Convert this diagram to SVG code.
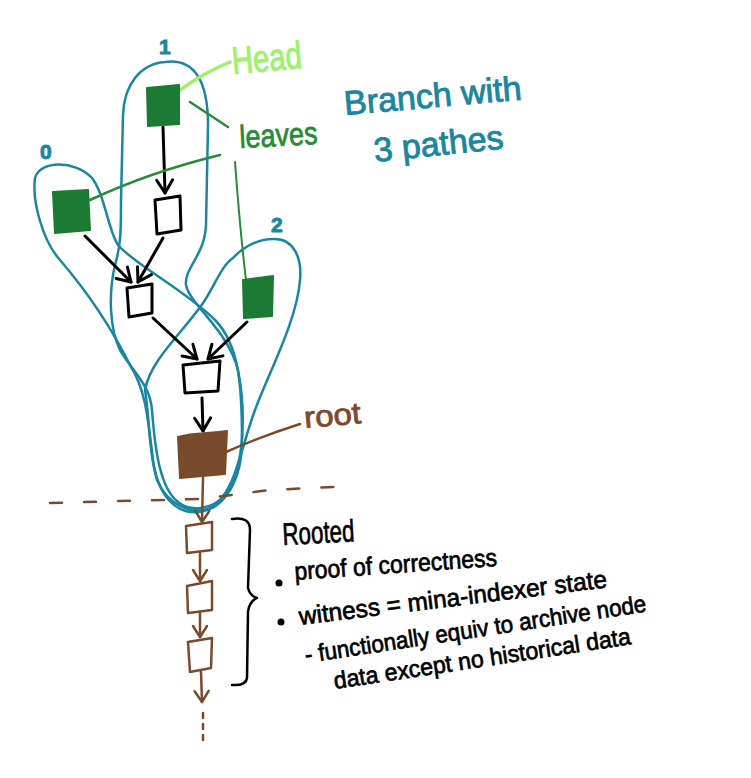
<svg xmlns="http://www.w3.org/2000/svg" width="751" height="778" viewBox="0 0 751 778">
<defs>
<marker id="ah" markerUnits="userSpaceOnUse" markerWidth="30" markerHeight="30" refX="0" refY="0" viewBox="-15 -15 30 30" orient="auto" overflow="visible">
<path d="M-13,-8 L0,0 L-13,8" fill="none" stroke="#000" stroke-width="3" stroke-linecap="round" stroke-linejoin="round"/>
</marker>
<marker id="ahb" markerUnits="userSpaceOnUse" markerWidth="30" markerHeight="30" refX="0" refY="0" viewBox="-15 -15 30 30" orient="auto" overflow="visible">
<path d="M-11,-7 L0,0 L-11,7" fill="none" stroke="#7a4a2c" stroke-width="2.5" stroke-linecap="round" stroke-linejoin="round"/>
</marker>
</defs>
<style>
.loop{fill:none;stroke:#1a86a0;stroke-width:2.5;stroke-linejoin:round}
.fg{fill:#1c7b33;stroke:#1c7b33;stroke-width:2;stroke-linejoin:round}
.fb{fill:#7a4a2c;stroke:#7a4a2c;stroke-width:2;stroke-linejoin:round}
.emp{fill:#fff;stroke:#000;stroke-width:3;stroke-linejoin:round}
.embr{fill:#fff;stroke:#7a4a2c;stroke-width:2.5;stroke-linejoin:round}
.arr{fill:none;stroke:#000;stroke-width:3;stroke-linecap:round;marker-end:url(#ah)}
.arrb{fill:none;stroke:#7a4a2c;stroke-width:2.5;stroke-linecap:round;marker-end:url(#ahb)}
.lead{fill:none;stroke-linecap:round}
.t{font-family:"Liberation Sans","DejaVu Sans",sans-serif}
.blue{fill:#1a86a0;stroke:#1a86a0;stroke-width:0.9}
.blk{fill:#000;stroke:#000;stroke-width:0.7}
.num{font-weight:bold;font-size:21px}
</style>
<g id="loops">
<path id="loop0" class="loop" d="M35,178 C40,160 75,160 92,178 C105,195 108,230 118,245 C135,265 185,290 215,320 C240,345 242,390 242,440 C242,480 225,508 200,512 C175,515 158,495 153,460 C148,420 146,390 130,365 C115,335 90,295 60,260 C42,240 32,200 35,178 Z"/>
<path id="loop1" class="loop" d="M165,62 C195,58 208,82 208,125 L206,225 C205,255 184,268 186,285 C190,305 228,330 238,370 C246,410 245,470 225,495 C212,510 190,512 178,502 C160,488 155,450 152,410 C150,385 135,375 120,350 C110,330 108,295 115,265 C121,245 121,230 121,200 L123,115 C124,85 140,64 165,62 Z"/>
<path id="loop2" class="loop" d="M273,239 C295,238 302,260 300,280 C297,320 270,370 255,410 C240,450 235,495 210,508 C190,515 168,505 157,480 C148,450 150,420 145,390 C150,360 185,330 203,303 C215,285 222,265 233,258 C245,245 260,239 273,239 Z"/>
</g>
<g id="connectors">
<path class="arr" d="M163,127 L165,193"/>
<path class="arr" d="M85,236 L131,282"/>
<path class="arr" d="M163,238 L138,282"/>
<path class="arr" d="M153,318 L197,359"/>
<path class="arr" d="M247,322 L208,359"/>
<path class="arr" d="M202,398 L203,431"/>
<path class="arrb" d="M203,478 L202,522"/>
<path class="arrb" d="M200,553 L200,581"/>
<path class="arrb" d="M200,613 L200,637"/>
<path class="arrb" d="M201,672 L202,702"/>
<path d="M203,713 L203,740" fill="none" stroke="#7a4a2c" stroke-width="2.5" stroke-dasharray="5 6" stroke-linecap="round"/>
<path class="lead" d="M180,90 Q203,73 230,62" stroke="#a0f070" stroke-width="3.5"/>
<path class="lead" d="M190,102 L228,127" stroke="#2a8a3a" stroke-width="2.5"/>
<path class="lead" d="M90,200 Q150,172 220,155" stroke="#2a8a3a" stroke-width="2.5"/>
<path class="lead" d="M235,162 Q240,230 246,280" stroke="#2a8a3a" stroke-width="2"/>
<path class="lead" d="M226,452 Q262,436 300,424" stroke="#7a4a2c" stroke-width="2.5"/>
<path d="M50,503 L120,501 L200,499 L270,490 L352,486" fill="none" stroke="#7a4a2c" stroke-width="2.5" stroke-dasharray="12 22" stroke-linecap="round"/>
<path d="M232,519 Q250,516 250,530 L248,588 Q250,596 257,598 Q249,602 248,612 L247,678 Q246,686 232,685" fill="none" stroke="#000" stroke-width="2.5" stroke-linecap="round" stroke-linejoin="round"/>
</g>
<g id="node-head"><path class="fg" d="M147,88 L179,85 L179,124 L148,126 Z"/></g>
<g id="node-0"><path class="fg" d="M53,192 L88,190 L90,230 L55,233 Z"/></g>
<g id="node-2"><path class="fg" d="M243,280 L273,276 L272,316 L244,318 Z"/></g>
<g id="node-n1"><path class="emp" d="M155,200 L180,196 L181,230 L157,234 Z"/></g>
<g id="node-ml"><path class="emp" d="M127,288 L152,284 L152,313 L129,317 Z"/></g>
<g id="node-mid"><path class="emp" d="M183,365 L220,361 L218,391 L185,393 Z"/></g>
<g id="node-root"><path class="fb" d="M178,437 C195,432 210,434 227,431 L225,474 L180,478 Z"/></g>
<g id="chain-a"><path class="embr" d="M186,526 L212,522 L212,550 L187,553 Z"/></g>
<g id="chain-b"><path class="embr" d="M187,586 L212,581 L212,610 L188,613 Z"/></g>
<g id="chain-c"><path class="embr" d="M188,642 L212,638 L211,668 L190,672 Z"/></g>
<g id="labels">
<text class="t blue num" x="159" y="54">1</text>
<text class="t blue num" x="40" y="159">0</text>
<text class="t blue num" x="271" y="232">2</text>
<text class="t" x="233" y="74" font-size="38" fill="#a0f070" stroke="#a0f070" stroke-width="1" textLength="70" lengthAdjust="spacingAndGlyphs" transform="rotate(-5 233 74)">Head</text>
<text class="t" x="240" y="148" font-size="32" fill="#2a8a3a" stroke="#2a8a3a" stroke-width="0.8" textLength="78" lengthAdjust="spacingAndGlyphs" transform="rotate(-3 240 148)">leaves</text>
<text class="t blue" x="345" y="115" font-size="34" textLength="178" lengthAdjust="spacingAndGlyphs" transform="rotate(-5 345 115)">Branch with</text>
<text class="t blue" x="375" y="162" font-size="34" textLength="130" lengthAdjust="spacingAndGlyphs" transform="rotate(-6 375 162)">3 pathes</text>
<text class="t" x="305" y="428" font-size="30" fill="#7a4a2c" stroke="#7a4a2c" stroke-width="0.8" textLength="57" lengthAdjust="spacingAndGlyphs" transform="rotate(-5 305 428)">root</text>
<text class="t blk" x="283" y="545" font-size="31" textLength="72" lengthAdjust="spacingAndGlyphs" transform="rotate(-3 283 545)">Rooted</text>
<circle cx="279" cy="583" r="3.5" fill="#000"/>
<circle cx="281" cy="622" r="3.5" fill="#000"/>
<text class="t blk" x="295" y="580" font-size="25" textLength="203" lengthAdjust="spacingAndGlyphs" transform="rotate(-4 295 580)">proof of correctness</text>
<text class="t blk" x="300" y="625" font-size="25" textLength="310" lengthAdjust="spacingAndGlyphs" transform="rotate(-7 300 625)">witness = mina-indexer state</text>
<text class="t blk" x="306" y="663" font-size="24" textLength="345" lengthAdjust="spacingAndGlyphs" transform="rotate(-8.6 306 663)">- functionally equiv to archive node</text>
<text class="t blk" x="335" y="689" font-size="24" textLength="300" lengthAdjust="spacingAndGlyphs" transform="rotate(-8.6 335 689)">data except no historical data</text>
</g>
</svg>
